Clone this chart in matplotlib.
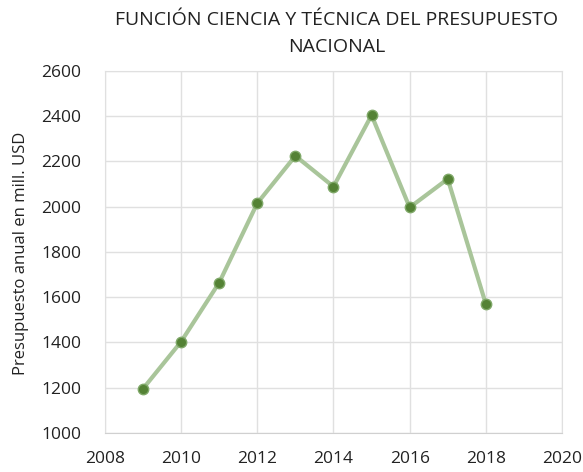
import matplotlib
matplotlib.use('Agg')
import matplotlib.pyplot as plt

# datos
anios = [2009, 2010, 2011, 2012, 2013, 2014, 2015, 2016, 2017, 2018]
presupuesto = [1195, 1403, 1664, 2015, 2224, 2088, 2404, 1996, 2122, 1569]
xticks = [2008, 2010, 2012, 2014, 2016, 2018, 2020]
yticks = [1000, 1200, 1400, 1600, 1800, 2000, 2200, 2400, 2600]

plt.rcParams['font.family'] = ['Open Sans', 'DejaVu Sans']

fig = plt.figure(figsize=(5.83, 4.72), dpi=100)
ax = fig.add_axes([0.180, 0.083, 0.784, 0.767])

ax.plot(anios, presupuesto, '-', color='#a9c59a', linewidth=3, zorder=2)
ax.plot(anios, presupuesto, 'o', color='#548235', markersize=7.5,
        markeredgecolor='#7fa868', markeredgewidth=1, zorder=3)

ax.set_xlim(2008, 2020)
ax.set_ylim(1000, 2600)
ax.set_xticks(xticks)
ax.set_yticks(yticks)
ax.grid(True, color='#e0e0e0', linewidth=1)
ax.set_axisbelow(True)
for s in ax.spines.values():
    s.set_color('#e0e0e0')
ax.spines['bottom'].set_color('#d0d0d0')
ax.tick_params(length=0, labelsize=12.5, colors='#222222')
ax.tick_params(axis='y', pad=17)
ax.tick_params(axis='x', pad=13)

ax.set_ylabel('Presupuesto anual en mill. USD', fontsize=12, color='#222222')
ax.yaxis.set_label_coords(-0.166, 0.495)
fig.text(0.577, 0.929, 'FUNCIÓN CIENCIA Y TÉCNICA DEL PRESUPUESTO\nNACIONAL',
         ha='center', va='center', fontsize=14, color='#222222', linespacing=1.6)

fig.savefig('out.png', dpi=100)
